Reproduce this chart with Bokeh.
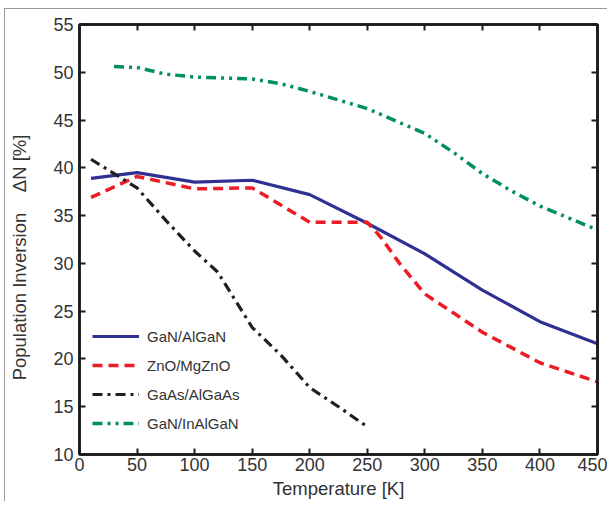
from bokeh.plotting import figure
from bokeh.models import Range1d, LinearAxis, FixedTicker, Legend, LegendItem
from bokeh.embed import file_html
from bokeh.resources import INLINE

# ---- data ----
gan_algan_T = [10, 50, 100, 150, 200, 250, 300, 350, 400, 450]
gan_algan_N = [38.9, 39.5, 38.5, 38.7, 37.2, 34.2, 31.0, 27.2, 23.9, 21.6]

zno_T = [10, 50, 100, 150, 200, 250, 262, 278, 300, 325, 350, 400, 450]
zno_N = [36.9, 39.1, 37.8, 37.9, 34.3, 34.3, 32.7, 30.0, 26.8, 24.8, 22.8, 19.6, 17.6]

gaas_T = [10, 50, 75, 100, 120, 150, 175, 200, 225, 250]
gaas_N = [40.9, 37.9, 34.5, 31.3, 29.1, 23.3, 20.4, 17.0, 15.0, 12.9]

inalgan_T = [30, 50, 75, 100, 150, 175, 200, 250, 300, 325, 350, 375, 400, 450]
inalgan_N = [50.6, 50.5, 49.8, 49.5, 49.3, 48.8, 48.0, 46.2, 43.6, 41.6, 39.4, 37.6, 36.0, 33.5]

series_names = ["GaN/AlGaN", "ZnO/MgZnO", "GaAs/AlGaAs", "GaN/InAlGaN"]
x_ticks = [0, 50, 100, 150, 200, 250, 300, 350, 400, 450]
y_ticks = [10, 15, 20, 25, 30, 35, 40, 45, 50, 55]

FONT = "Liberation Sans"
TXT = "#333333"
NB = "\u00a0"

p = figure(frame_width=518, frame_height=430,
           min_border_left=74, min_border_top=15, min_border_right=10, min_border_bottom=45,
           x_range=Range1d(0, 450), y_range=Range1d(10, 55),
           output_backend="svg", toolbar_location=None,
           x_axis_label="Temperature [K]",
           y_axis_label="Population Inversion" + NB * 4 + "\u0394N [%]" + NB * 7)
p.margin = (8, 0, 0, 4)

p.grid.visible = False
p.background_fill_color = "white"
p.border_fill_color = "white"
p.outline_line_color = "#1a1a1a"
p.outline_line_width = 2.5

def style_axis(ax, ticks, labels=True):
    ax.ticker = FixedTicker(ticks=ticks)
    ax.major_tick_in = 6
    ax.major_tick_out = 0
    ax.minor_tick_line_color = None
    ax.major_tick_line_width = 2
    ax.major_tick_line_color = "#1a1a1a"
    ax.axis_line_color = "#1a1a1a"
    ax.axis_line_width = 2.5
    ax.major_label_text_font = FONT
    ax.major_label_text_font_size = "18px"
    ax.major_label_text_color = TXT
    ax.axis_label_text_font = FONT
    ax.axis_label_text_font_size = "18.5px"
    ax.axis_label_text_font_style = "normal"
    ax.axis_label_text_color = TXT
    if not labels:
        ax.major_label_overrides = {t: "" for t in ticks}

style_axis(p.xaxis[0], x_ticks)
style_axis(p.yaxis[0], y_ticks)
p.xaxis[0].major_label_standoff = 3
p.xaxis[0].axis_label_standoff = 4
p.yaxis[0].major_label_standoff = 6
p.yaxis[0].axis_label_standoff = 20

top = LinearAxis()
style_axis(top, x_ticks, labels=False)
p.add_layout(top, "above")
right = LinearAxis()
style_axis(right, y_ticks, labels=False)
p.add_layout(right, "right")

r1 = p.line(gan_algan_T, gan_algan_N, line_color="#2e3192", line_width=3.2)
r2 = p.line(zno_T, zno_N, line_color="#ec1c24", line_width=3.5, line_dash="10 6")
r3 = p.line(gaas_T, gaas_N, line_color="#231f20", line_width=3.2, line_dash="10 5 3 5")
r4 = p.line(inalgan_T, inalgan_N, line_color="#00915a", line_width=3.5, line_dash="10 5 3 5 3 5")

legend = Legend(items=[LegendItem(label=series_names[0], renderers=[r1]),
                       LegendItem(label=series_names[1], renderers=[r2]),
                       LegendItem(label=series_names[2], renderers=[r3]),
                       LegendItem(label=series_names[3], renderers=[r4])],
                location=(13, 21), margin=0, padding=0, spacing=9,
                glyph_width=47, glyph_height=20, label_height=20, label_standoff=8,
                border_line_color=None, background_fill_alpha=0,
                label_text_font=FONT, label_text_font_size="15px", label_text_color=TXT)
p.add_layout(legend, "center")

p.styles = {"border-top": "1px solid #9a9a9a", "border-left": "1px solid #9a9a9a"}

open("out.html", "w").write(file_html(p, INLINE))
